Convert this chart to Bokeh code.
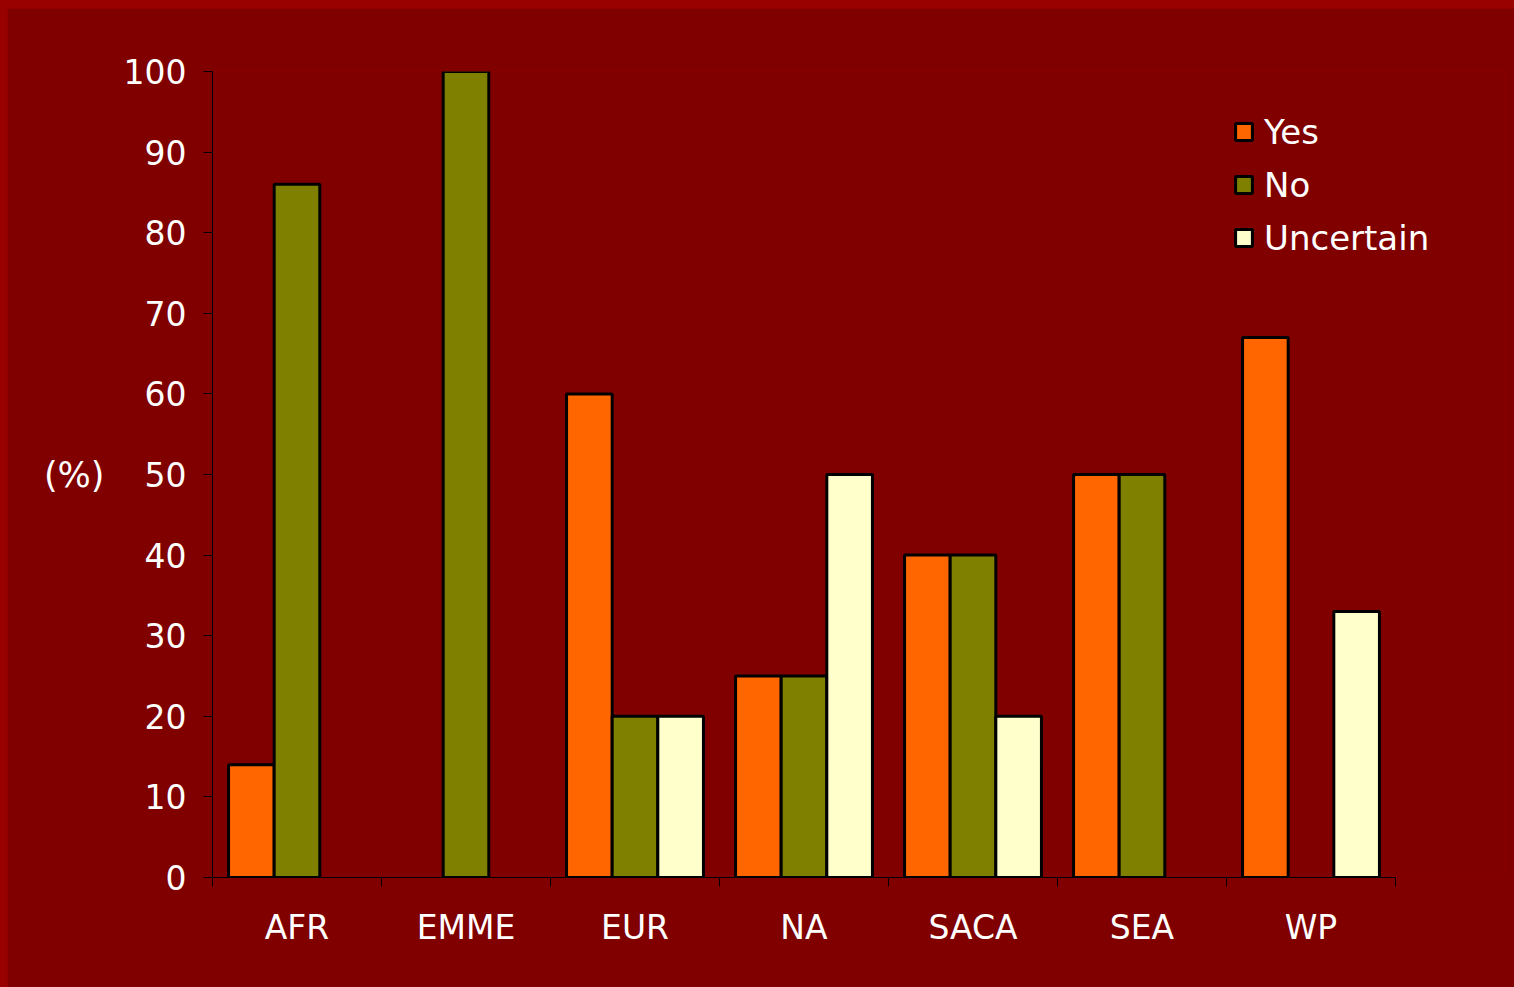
from bokeh.plotting import figure
from bokeh.models import ColumnDataSource, Range1d, FixedTicker, Legend, LegendItem
from bokeh.transform import dodge
from bokeh.layouts import column
from bokeh.embed import file_html
from bokeh.resources import INLINE

regions = ["AFR", "EMME", "EUR", "NA", "SACA", "SEA", "WP"]
yes = [14, 0, 60, 25, 40, 50, 67]
no = [86, 100, 20, 25, 40, 50, 0]
uncertain = [0, 0, 20, 50, 20, 0, 33]
series_names = ["Yes", "No", "Uncertain"]
series_values = [yes, no, uncertain]
series_colors = ["#FF6600", "#808000", "#FFFFCC"]
y_ticks = list(range(0, 101, 10))

FONT = "DejaVu Sans"
n = len(regions)
centers = [i + 0.5 for i in range(n)]
bar_w = 0.27
offsets = [-bar_w, 0.0, bar_w]

# layout geometry (pixels)
W, H = 1507, 979
B_LEFT, B_TOP, B_BOTTOM = 205, 63, 110
AXIS_PX = 1183            # width of the category axis
B_RIGHT = 10              # frame extends past the axis so the legend is not clipped
frame_w = W - B_LEFT - B_RIGHT
x_end = n * frame_w / AXIS_PX

p = figure(width=W, height=H, output_backend="svg", toolbar_location=None,
           x_range=Range1d(0, x_end), y_range=Range1d(0, 100),
           min_border_left=B_LEFT, min_border_right=B_RIGHT,
           min_border_top=B_TOP, min_border_bottom=B_BOTTOM,
           background_fill_color="#800000", border_fill_color="#800000",
           outline_line_color=None, margin=(8, 0, 0, 7))
p.grid.visible = False

items = []
for name, vals, col, off in zip(series_names, series_values, series_colors, offsets):
    xs = [c for c, v in zip(centers, vals) if v > 0]
    vs = [v for v in vals if v > 0]
    src = ColumnDataSource(dict(x=xs, top=vs))
    r = p.vbar(x=dodge("x", off, range=p.x_range), top="top", bottom=0, width=bar_w,
               fill_color=col, line_color="black", line_width=3, source=src)
    items.append(LegendItem(label=name, renderers=[r]))

legend = Legend(items=items, location=(1021, 613), orientation="vertical",
                border_line_color=None, background_fill_alpha=0,
                label_text_color="white", label_text_font=FONT, label_text_font_size="34px",
                glyph_width=21, glyph_height=21, label_standoff=10, spacing=0,
                label_height=53, padding=0, margin=0)
p.add_layout(legend)

# y axis
yax = p.yaxis[0]
yax.ticker = FixedTicker(ticks=y_ticks)
yax.minor_tick_line_color = None
yax.major_tick_in = 0
yax.major_tick_out = 9
yax.major_label_standoff = 17
yax.axis_line_color = "black"
yax.major_tick_line_color = "black"
yax.major_label_text_color = "white"
yax.major_label_text_font = FONT
yax.major_label_text_font_size = "33px"
yax.axis_label = "(%)"
yax.axis_label_orientation = "horizontal"
yax.axis_label_standoff = 16
yax.axis_label_text_color = "white"
yax.axis_label_text_font = FONT
yax.axis_label_text_font_size = "35px"
yax.axis_label_text_font_style = "normal"

# x axis
xax = p.xaxis[0]
xax.bounds = (0, n)
xax.ticker = FixedTicker(ticks=centers, minor_ticks=list(range(n + 1)))
xax.major_label_overrides = {c: r for c, r in zip(centers, regions)}
xax.major_tick_line_color = None
xax.major_tick_in = 0
xax.major_tick_out = 0
xax.minor_tick_in = 0
xax.minor_tick_out = 9
xax.minor_tick_line_color = "black"
xax.axis_line_color = "black"
xax.major_label_standoff = 21
xax.major_label_text_color = "white"
xax.major_label_text_font = FONT
xax.major_label_text_font_size = "33px"

layout = column(p, styles={"background-color": "#990000"})

open("out.html", "w").write(file_html(layout, INLINE))
